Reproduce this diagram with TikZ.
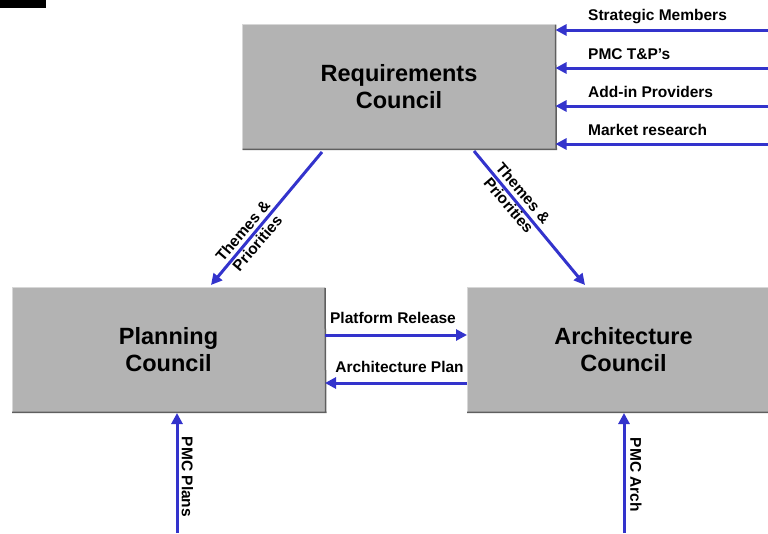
\documentclass[tikz,border=0pt]{standalone}
\usepackage{fontspec}
\setmainfont{Liberation Sans}
\usetikzlibrary{arrows.meta}
\definecolor{arrblue}{RGB}{51,51,204}
\definecolor{boxgray}{RGB}{179,179,179}
\definecolor{edgedark}{RGB}{95,95,95}
\definecolor{edgelight}{RGB}{215,215,215}
\begin{document}
\begin{tikzpicture}[x=1pt,y=-1pt,
  council/.style={fill=boxgray, minimum width=313pt, minimum height=126pt,
    inner sep=0pt, outer sep=0pt, align=center,
    font=\fontsize{23.5}{27}\selectfont\bfseries},
  flow/.style={draw=arrblue, line width=3pt, -{Triangle[length=11pt,width=11pt]}},
  lbl/.style={font=\fontsize{15.5}{18}\selectfont\bfseries, inner sep=0pt},
  dlbl/.style={font=\fontsize{15.5}{19}\selectfont\bfseries, inner sep=0pt, align=center},
  darkedge/.style={draw=edgedark, line width=1.5pt},
  lightedge/.style={draw=edgelight, line width=1pt},
]
\useasboundingbox (0,0) rectangle (768,533);
\clip (0,0) rectangle (768,533);

% black tab
\fill[black] (0,0) rectangle (46,8);

% boxes
\node[council] (req) at (399,87) {Requirements\\Council};
\node[council] (plan) at (168.5,350) {Planning\\Council};
\node[council] (arch) at (623.5,350) {Architecture\\Council};

\foreach \b in {req,plan,arch}{
  \draw[lightedge] (\b.south west) -- (\b.north west) -- (\b.north east);
  \draw[darkedge] ([yshift=-0.75pt]\b.north east) -- ([xshift=0.75pt,yshift=0.75pt]\b.south east) -- ([yshift=0.75pt]\b.south west);
}

% inputs to requirements council
\coordinate (in1) at (768,30);
\coordinate (in2) at (768,68);
\coordinate (in3) at (768,106);
\coordinate (in4) at (768,144);
\draw[flow] (in1) -- (req.east |- in1);
\draw[flow] (in2) -- (req.east |- in2);
\draw[flow] (in3) -- (req.east |- in3);
\draw[flow] (in4) -- (req.east |- in4);
\node[lbl, anchor=base west] (l1) at (588,20.5) {Strategic Members};
\node[lbl, anchor=base west] (l2) at (588,59.5) {PMC T\&P’s};
\node[lbl, anchor=base west] (l3) at (588,97) {Add-in Providers};
\node[lbl, anchor=base west] (l4) at (588,135) {Market research};

% themes & priorities
\coordinate (d1s) at (322,152);
\coordinate (d1e) at (211,285);
\coordinate (d2s) at (474,151);
\coordinate (d2e) at (585,285);
\draw[flow] (d1s) -- (d1e);
\draw[flow] (d2s) -- (d2e);
\node[dlbl, rotate=49.5] (t1) at (250,237) {Themes \&\\Priorities};
\node[dlbl, rotate=-49.5] (t2) at (516,199) {Themes \&\\Priorities};

% between planning and architecture
\coordinate (hpr) at (0,335);
\coordinate (hap) at (0,383);
\draw[flow] (plan.east |- hpr) -- (arch.west |- hpr);
\draw[flow] (arch.west |- hap) -- (plan.east |- hap);
\node[lbl, anchor=base] (pr) at (393,323) {Platform Release};
\node[lbl, anchor=base] (ap) at (399.5,372) {Architecture Plan};

% bottom inputs
\coordinate (b1) at (177,533);
\coordinate (b2) at (624,533);
\draw[flow] (b1) -- (b1 |- plan.south);
\draw[flow] (b2) -- (b2 |- arch.south);
\node[lbl, rotate=-90] (pp) at (187.5,477) {PMC Plans};
\node[lbl, rotate=-90] (pa) at (636,475) {PMC Arch};
\end{tikzpicture}
\end{document}
